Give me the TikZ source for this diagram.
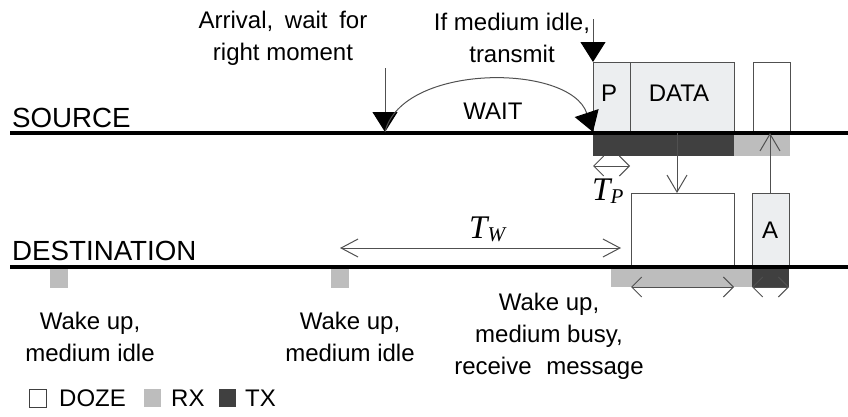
\documentclass[tikz,border=0pt]{standalone}
\usepackage{fontspec}
\setmainfont{Liberation Sans}
\newfontfamily\serifit{Liberation Serif}
\usetikzlibrary{arrows.meta}
\definecolor{rxgray}{HTML}{BDBDBD}
\definecolor{txdark}{HTML}{404040}
\definecolor{pktfill}{HTML}{ECEEF0}
\definecolor{edge}{HTML}{505050}
\newcommand\wordgap[1]{\ \hspace{#1pt}}
\begin{document}
\begin{tikzpicture}[x=1pt,y=-1pt,
  lbl/.style={font=\fontsize{24}{32}\selectfont, align=center, inner sep=0pt},
  axislbl/.style={font=\fontsize{27.7}{32}\selectfont, inner sep=0pt, anchor=base west},
  tsym/.style={font=\fontsize{33}{34}\serifit\itshape, inner sep=0pt, anchor=base west},
  axis/.style={line width=4pt},
  rxbar/.style={fill=rxgray, draw=none},
  txbar/.style={fill=txdark, draw=none},
  pkt/.style={draw=edge, line width=1pt, fill=pktfill, inner sep=0pt, anchor=north west},
  emptybox/.style={pkt, fill=white},
  boxtext/.style={font=\fontsize{24}{28}\selectfont, inner sep=0pt},
  conn/.style={draw=edge, line width=1pt},
  solidtip/.style={conn, -{Triangle[length=20pt,width=25pt,fill=black,color=black]}},
  opentip/.style={conn, -{Straight Barb[length=17pt,width=20pt,line width=1pt]}},
  dbl/.style={conn, {Straight Barb[length=10pt,width=20pt,line width=1pt]}-{Straight Barb[length=10pt,width=20pt,line width=1pt]}},
  longdbl/.style={conn, {Straight Barb[length=17pt,width=18pt,line width=1pt]}-{Straight Barb[length=17pt,width=18pt,line width=1pt]}},
  legend/.style={minimum width=17pt, minimum height=18pt, inner sep=0pt}
]
\useasboundingbox (0,0) rectangle (848,416);

% activity bars below the two time lines
\fill[txbar] (593,133) rectangle (734,156);
\fill[rxbar] (734,133) rectangle (790,156);
\fill[rxbar] (50,267) rectangle (68,288);
\fill[rxbar] (331,267) rectangle (349,288);
\fill[rxbar] (611,267) rectangle (752,287);
\fill[txbar] (752,267) rectangle (789,287);

% frames on the source side
\node[pkt, minimum width=37pt, minimum height=71pt] (P) at (593,62) {};
\node[pkt, minimum width=104pt, minimum height=71pt] (D) at (630,62) {};
\node[emptybox, minimum width=37pt, minimum height=71pt] (S) at (753,62) {};
\node[boxtext] (Pt) at (609,93) {P};
\node[boxtext] (Dt) at (679,93) {DATA};

% frames on the destination side
\node[emptybox, minimum width=103pt, minimum height=74pt] (R) at (631,193) {};
\node[pkt, minimum width=37pt, minimum height=74pt] (A) at (752,193) {};
\node[boxtext] (At) at (770,230) {A};

% time lines
\coordinate (s0) at (10,133);
\coordinate (s1) at (848,133);
\coordinate (d0) at (10,267);
\coordinate (d1) at (848,267);
\draw[axis] (s0) -- (s1);
\draw[axis] (d0) -- (d1);
\node[axislbl] (src) at (12,127) {SOURCE};
\node[axislbl] (dst) at (12,260) {DESTINATION};

% arrival and transmit events
\node[lbl] (arr) at (283,38) {Arrival,\wordgap{5}wait\wordgap{5}for\\right moment};
\node[lbl] (idle) at (512,38) {If medium idle,\\transmit};
\coordinate (a0) at (385,68);
\coordinate (a1) at (385,132);
\draw[solidtip] (a0) -- (a1);
\coordinate (t0) at (593,19);
\draw[solidtip] (t0) -- (P.north west);

% waiting period
\coordinate (w1) at (593,132);
\draw[solidtip] (a1) .. controls (402,63) and (570,63) .. (w1);
\node[lbl] (wait) at (493,111) {WAIT};

% preamble duration
\coordinate (tp0) at (593,166);
\coordinate (tp1) at (630,166);
\draw[dbl] (tp0) -- (tp1);
\node[tsym] (TP) at (592,200) {T\raisebox{-0.2ex}{\fontsize{21}{21}\selectfont P}};

% data and acknowledgement transfers
\coordinate (dx) at (677,133);
\draw[opentip] (dx) -- (R.north -| dx);
\coordinate (ax) at (770,193);
\draw[opentip] (ax) -- (ax |- s1);

% wake-up interval
\coordinate (tw0) at (340,248);
\coordinate (tw1) at (621,248);
\draw[longdbl] (tw0) -- (tw1);
\node[tsym] (TW) at (469,238) {T\raisebox{-0.2ex}{\fontsize{21}{21}\selectfont W}};

% reception durations
\coordinate (r0) at (631,287);
\coordinate (r1) at (734,287);
\draw[dbl] (r0) -- (r1);
\coordinate (k0) at (752,287);
\coordinate (k1) at (789,287);
\draw[dbl] (k0) -- (k1);

% wake-up notes
\node[lbl] (wk1) at (90,337) {Wake up,\\medium idle};
\node[lbl] (wk2) at (350,337) {Wake up,\\medium idle};
\node[lbl] (wk3) at (549,336) {Wake up,\\medium busy,\\receive\wordgap{8}message};

% legend
\node[legend, draw=txdark, line width=0.8pt, fill=white] (lz) at (38,398) {};
\node[lbl, anchor=west] (lzt) at (59,398) {DOZE};
\node[legend, fill=rxgray] (lr) at (152,398) {};
\node[lbl, anchor=west] (lrt) at (171,398) {RX};
\node[legend, fill=txdark] (lt) at (227,398) {};
\node[lbl, anchor=west] (ltt) at (245,398) {TX};
\end{tikzpicture}
\end{document}
